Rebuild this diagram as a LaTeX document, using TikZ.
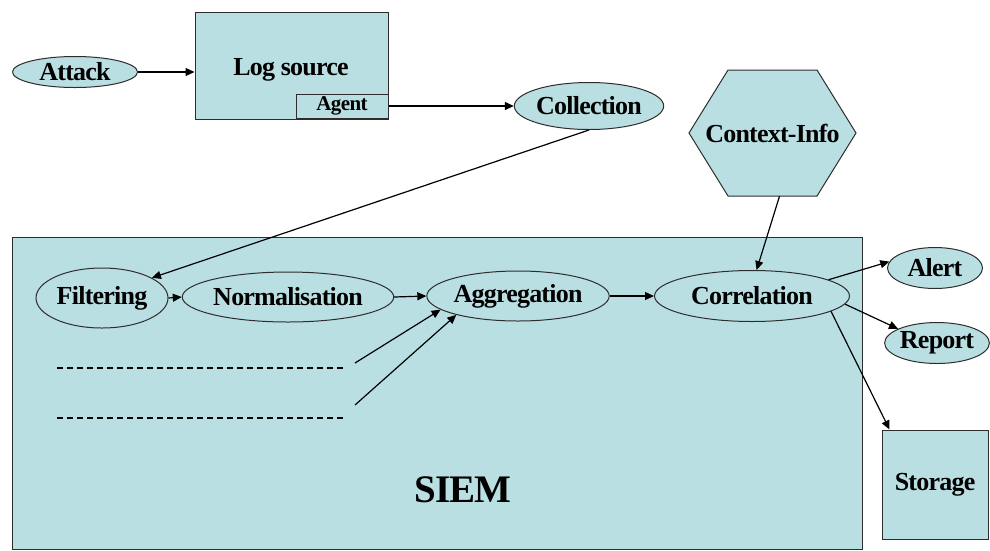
\documentclass[tikz,border=0pt]{standalone}
\usepackage{fontspec}
\setmainfont{Liberation Serif}[LetterSpace=-3]
\usetikzlibrary{arrows.meta,calc,shapes.geometric}
\definecolor{fillc}{RGB}{186,223,227}
\definecolor{linec}{RGB}{45,45,45}
\begin{document}
\begin{tikzpicture}[x=1pt,y=-1pt,
  box/.style={draw=linec, fill=fillc, line width=1pt, inner sep=0pt},
  oval/.style={ellipse, draw=linec, fill=fillc, line width=1pt, inner sep=0pt, font=\fontsize{26}{28}\selectfont\bfseries},
  lbl/.style={font=\fontsize{26}{28}\selectfont\bfseries, inner sep=0pt},
  conn/.style={line width=1.2pt, draw=black, -{Triangle[length=9pt,width=8pt]}},
  dashline/.style={line width=2.6pt, dash pattern=on 6pt off 4pt}]
\useasboundingbox (0,0) rectangle (990,550);
% SIEM container
\node[box, minimum width=850, minimum height=312, anchor=north west] (siem) at (12,237) {};
\node[font=\fontsize{39}{41}\selectfont\bfseries] (siemlbl) at (463,490) {SIEM};
% top row
\node[oval, minimum width=125, minimum height=31] (att) at (75,72) {Attack};
\node[box, minimum width=193, minimum height=107] (ls) at (291.5,65.5) {};
\node[lbl] (lslbl) at (291,70) {Log source};
\node[box, minimum width=92, minimum height=24, font=\fontsize{21}{23}\selectfont\bfseries] (agent) at (342,106) {Agent};
\node[oval, minimum width=134, minimum height=47] (coll) at (589,106) {Collection};
% context hexagon
\draw[box] (689,133) -- (728,70) -- (817,70) -- (856,133) -- (817,196) -- (728,196) -- cycle;
\node[lbl, minimum width=167, minimum height=126] (ctx) at (772.5,133) {Context-Info};
% SIEM process
\node[oval, minimum width=132, minimum height=60] (filt) at (102,298) {Filtering};
\node[oval, minimum width=183, minimum height=50] (norm) at (288,297) {Normalisation};
\node[oval, minimum width=176, minimum height=50] (agg) at (518,296) {Aggregation};
\node[oval, minimum width=195, minimum height=51] (corr) at (752,296) {Correlation};
% outputs
\node[oval, minimum width=95, minimum height=41] (alert) at (935,268) {Alert};
\node[oval, minimum width=100, minimum height=41] (report) at (937,343) {Report};
\node[box, lbl, minimum width=106, minimum height=109] (storage) at (935,484.5) {Storage};
% dashed placeholders
\coordinate (d1s) at (57,368);
\coordinate (d1e) at (345,368);
\coordinate (d2s) at (57,418);
\coordinate (d2e) at (345,418);
\coordinate (s1) at (355,363);
\coordinate (s2) at (355,405);
\draw[dashline] (d1s) -- (d1e);
\draw[dashline] (d2s) -- (d2e);
% connectors
\draw[conn] (att.east) -- (att.east -| ls.west);
\draw[conn] (agent.east) -- (coll.west);
\draw[conn] (coll.south) -- (filt.22);
\draw[conn] ($(ctx.south)+(7,0)$) -- (corr.80);
\draw[conn] (filt.east) -- (norm.west);
\draw[conn] (norm.east) -- (agg.west);
\draw[conn] (agg.east) -- (corr.west);
\draw[conn] (s1) -- (agg.190);
\draw[conn] (s2) -- (agg.197);
\draw[conn] (corr.12) -- (alert.172);
\draw[conn] (corr.-5) -- (report.160);
\draw[conn] (corr.-11) -- ($(storage.north west)+(8,0)$);
\end{tikzpicture}
\end{document}
